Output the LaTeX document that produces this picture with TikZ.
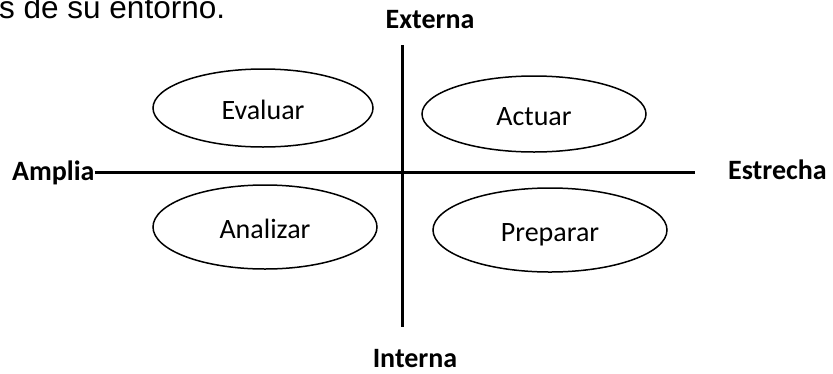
\documentclass[tikz,border=0pt]{standalone}
\usepackage{fontspec}
\setmainfont{Carlito}
\newfontfamily\arialfont{Liberation Sans}
\usetikzlibrary{shapes.geometric}
\begin{document}
\begin{tikzpicture}[x=1bp,y=-1bp,
  lab/.style={font=\fontsize{28bp}{30bp}\selectfont\bfseries, inner sep=0pt},
  oval/.style={ellipse, draw, line width=1.5bp, inner sep=0pt,
    text height=23bp, text depth=0bp,
    font=\fontsize{28bp}{30bp}\selectfont},
  axisline/.style={line width=3bp}]
\useasboundingbox (0,0) rectangle (833,373);
\node[anchor=base west, inner sep=0pt, font=\arialfont\fontsize{31.5bp}{33bp}\selectfont] (intro) at (-1,18) {s de su entorno.};
\node[lab, anchor=base] (ext) at (430,28) {Externa};
\node[lab, anchor=base] (int) at (415,367) {Interna};
\node[lab, anchor=base west] (amp) at (12,180) {Amplia};
\node[lab, anchor=base west] (est) at (728,179) {Estrecha};
\coordinate (vt) at (402,45);
\coordinate (vb) at (402,327);
\coordinate (hr) at (695,172);
\draw[axisline] (vt) -- (vb);
\draw[axisline] (amp.east |- hr) -- (hr);
\node[oval, minimum width=220bp, minimum height=78bp] (eval) at (263,108) {Evaluar};
\node[oval, minimum width=224bp, minimum height=76bp] (act) at (534,114) {Actuar};
\node[oval, minimum width=224bp, minimum height=84bp] (ana) at (265,227) {Analizar};
\node[oval, minimum width=234bp, minimum height=84bp] (prep) at (550,230) {Preparar};
\end{tikzpicture}
\end{document}
